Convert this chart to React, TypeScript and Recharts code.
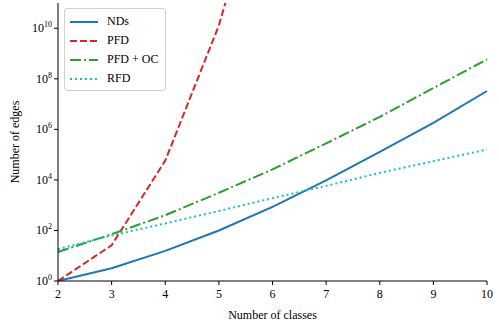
import { LineChart, Line, XAxis, YAxis, Legend } from 'recharts';

const classes = [2, 3, 4, 5, 6, 7, 8, 9, 10];
const nds = [1, 3.2, 15.5, 100, 850, 9500, 1.3e5, 1.8e6, 3.3e7];
const pfd = [1, 26, 5.8e4, 1.3e10, 2.5e17, null, null, null, null];
const pfdOc = [14, 71, 400, 3100, 2.6e4, 2.8e5, 3.1e6, 4.3e7, 5.9e8];
const rfd = [18, 63, 190, 590, 1900, 5800, 1.9e4, 5.5e4, 1.6e5];
const yTicks = [1, 1e2, 1e4, 1e6, 1e8, 1e10];

const FONT = '"Liberation Serif", "DejaVu Serif", serif';

const series = [
  { key: 'nds', name: 'NDs', color: '#1f77b4', dash: undefined },
  { key: 'pfd', name: 'PFD', color: '#d62728', dash: '7 3' },
  { key: 'pfdOc', name: 'PFD + OC', color: '#2ca02c', dash: '11 3 2 3' },
  { key: 'rfd', name: 'RFD', color: '#17becf', dash: '2 3' },
];

const data = classes.map((x, i) => ({
  x,
  nds: nds[i],
  pfd: pfd[i],
  pfdOc: pfdOc[i],
  rfd: rfd[i],
}));

const YTick = ({ x, y, payload }: any) => {
  const e = Math.round(Math.log10(payload.value));
  return (
    <text x={x} y={y} dy={4} textAnchor="end" fontFamily={FONT} fontSize={12} fill="#000">
      <tspan>10</tspan>
      <tspan dy={-5} fontSize={8}>{e}</tspan>
    </text>
  );
};

const XTick = ({ x, y, payload }: any) => (
  <text x={x} y={y} dy={11} textAnchor="middle" fontFamily={FONT} fontSize={12} fill="#000">
    {payload.value}
  </text>
);

const renderLegend = () => (
  <div
    style={{
      border: '1px solid #d0d0d0',
      borderRadius: 3,
      background: 'rgba(255,255,255,0.85)',
      padding: '3px 6px 2px 5px',
      width: 89,
      fontFamily: FONT,
      fontSize: 12,
      color: '#000',
    }}
  >
    {series.map(s => (
      <div key={s.key} style={{ display: 'flex', alignItems: 'center', height: 19 }}>
        <svg width={28} height={6} style={{ marginRight: 9 }}>
          <line x1={0} y1={3} x2={28} y2={3} stroke={s.color} strokeWidth={2} strokeDasharray={s.dash} />
        </svg>
        <span>{s.name}</span>
      </div>
    ))}
  </div>
);

export default function App() {
  return (
    <div style={{ position: 'absolute', left: 0, top: 0, width: 499, height: 322, background: '#fff' }}>
      <LineChart width={499} height={322} data={data} margin={{ top: 3, right: 12, bottom: 0, left: 0 }}>
        <XAxis
          dataKey="x"
          type="number"
          domain={[2, 10]}
          ticks={classes}
          tick={<XTick />}
          tickSize={4}
          stroke="#000"
          height={41}
          label={{ value: 'Number of classes', position: 'insideBottom', offset: 3, fontFamily: FONT, fontSize: 12, fill: '#000' }}
        />
        <XAxis xAxisId="top" orientation="top" dataKey="x" type="number" domain={[2, 10]} tick={false} tickLine={false} stroke="#333" height={0} />
        <YAxis
          type="number"
          scale="log"
          domain={[1, 1e11]}
          allowDataOverflow
          ticks={yTicks}
          tick={<YTick />}
          tickSize={4}
          stroke="#000"
          width={58}
          label={{ value: 'Number of edges', angle: -90, position: 'insideLeft', offset: 15, fontFamily: FONT, fontSize: 12, fill: '#000', style: { textAnchor: 'middle' } }}
        />
        <YAxis yAxisId="right" orientation="right" type="number" domain={[0, 1]} tick={false} tickLine={false} stroke="#333" width={0} />
        <Legend content={renderLegend} layout="vertical" align="center" verticalAlign="middle" wrapperStyle={{ left: 64, top: 8, width: 'auto' }} />
        {series.map(s => (
          <Line
            key={s.key}
            type="linear"
            dataKey={s.key}
            name={s.name}
            stroke={s.color}
            strokeWidth={2}
            strokeDasharray={s.dash}
            dot={false}
            activeDot={false}
            connectNulls={false}
            isAnimationActive={false}
          />
        ))}
      </LineChart>
    </div>
  );
}
